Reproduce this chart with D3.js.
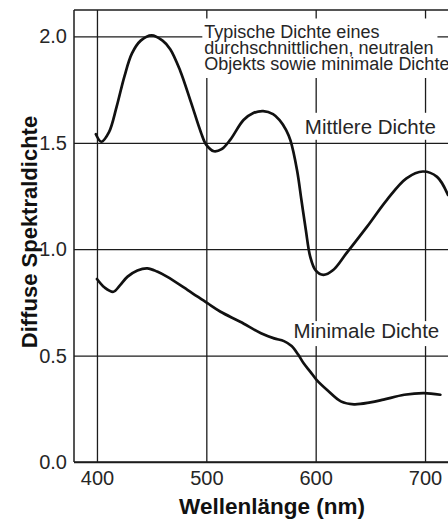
<!DOCTYPE html>
<html>
<head>
<meta charset="utf-8">
<script src="https://cdn.jsdelivr.net/npm/d3@7/dist/d3.min.js"></script>
<style>
  html, body { margin: 0; padding: 0; background: #fff; }
  svg { display: block; font-family: "Liberation Sans", Arial, Helvetica, sans-serif; }
</style>
</head>
<body>
<svg id="chart" width="448" height="526"></svg>
<script>
// ---- data ----
const xTicks = [400, 500, 600, 700];
const yTicks = [0.0, 0.5, 1.0, 1.5, 2.0];

const mittlereNm     = [399, 404, 411, 418, 425, 432, 440, 450, 460, 467, 476, 486, 495, 500, 507, 514, 522, 534, 543, 552, 561, 567, 573, 577, 583, 587, 591, 595, 600, 607, 616, 628, 647, 665, 683, 698, 711, 721];
const mittlereDichte = [1.54, 1.505, 1.55, 1.67, 1.81, 1.92, 1.98, 2.005, 1.98, 1.94, 1.84, 1.69, 1.55, 1.49, 1.46, 1.47, 1.515, 1.607, 1.64, 1.649, 1.635, 1.607, 1.56, 1.51, 1.37, 1.23, 1.09, 0.965, 0.90, 0.879, 0.902, 0.98, 1.106, 1.231, 1.333, 1.365, 1.34, 1.255];

const minimaleNm     = [400, 407, 415, 421, 428, 437, 446, 455, 464, 483, 501, 513, 531, 550, 562, 571, 578, 584, 589, 595, 601, 611, 623, 635, 650, 662, 681, 699, 714];
const minimaleDichte = [0.86, 0.82, 0.80, 0.83, 0.871, 0.90, 0.91, 0.895, 0.871, 0.808, 0.746, 0.706, 0.659, 0.605, 0.581, 0.568, 0.545, 0.505, 0.464, 0.425, 0.385, 0.336, 0.285, 0.271, 0.28, 0.293, 0.316, 0.324, 0.316];

const noteLines = ["Typische Dichte eines", "durchschnittlichen, neutralen", "Objekts sowie minimale Dichte"];
const labelMittlere = "Mittlere Dichte";
const labelMinimale = "Minimale Dichte";
const xTitle = "Wellenlänge (nm)";
const yTitle = "Diffuse Spektraldichte";

// ---- layout ----
const svg = d3.select("#chart");
const L = 74, R = 448, T = 10, B = 462;
const x = d3.scaleLinear().domain([379, 721]).range([L, R]);
const y = d3.scaleLinear().domain([0, 2.124]).range([B, T]);
const ink = "#1c1c1c";
const textInk = "#262626";

// gridlines + tick labels via axes
const yAxis = d3.axisLeft(y).tickValues(yTicks).tickFormat(d3.format(".1f"))
  .tickSize(-(R - L)).tickPadding(7);
const gy = svg.append("g").attr("transform", `translate(${L},0)`).call(yAxis);
gy.select(".domain").remove();
gy.selectAll(".tick line").attr("stroke", ink).attr("stroke-width", 1.3);
gy.selectAll(".tick text").attr("fill", textInk).attr("font-size", 20).attr("font-family", "Liberation Sans, Arial, sans-serif");

const xAxis = d3.axisBottom(x).tickValues(xTicks).tickFormat(d3.format("d"))
  .tickSize(-(B - T)).tickPadding(9);
const gx = svg.append("g").attr("transform", `translate(0,${B})`).call(xAxis);
gx.select(".domain").remove();
gx.selectAll(".tick line").attr("stroke", ink).attr("stroke-width", 1.3);
gx.selectAll(".tick text").attr("fill", textInk).attr("font-size", 20).attr("font-family", "Liberation Sans, Arial, sans-serif");

// ---- annotation labels with white backgrounds ----
function boxedText(lines, opts) {
  const g = svg.append("g");
  const rect = g.append("rect").attr("fill", "#fff");
  const t = g.append("text")
    .attr("font-size", opts.size)
    .attr("fill", textInk)
    .attr("text-anchor", opts.anchor);
  const spans = lines.map((s, i) =>
    t.append("tspan").attr("x", opts.x).attr("y", opts.y + i * opts.lh).text(s));
  return { g, rect, t, spans };
}

// note block (top right)
const note = boxedText(noteLines, { x: x(500) - 2, y: y(2.0) + 1.5, lh: 16, size: 18, anchor: "start" });
{
  const w2 = note.spans[1].node().getComputedTextLength();
  const x0 = x(500) - 4;
  note.rect.attr("x", x0).attr("y", T + 8.5).attr("width", w2 + 6).attr("height", 78 - (T + 8.5));
}

// Mittlere Dichte
const midX = (x(600) + x(700)) / 2;
const mid = boxedText([labelMittlere], { x: midX, y: y(1.5) - 9, lh: 0, size: 20.5, anchor: "middle" });
{
  const w = mid.t.node().getComputedTextLength();
  mid.rect.attr("x", midX - w / 2 - 3).attr("y", y(1.5) - 30).attr("width", w + 6).attr("height", 27);
}

// Minimale Dichte
const minX = (x(600) + x(700)) / 2 - 4;
const minL = boxedText([labelMinimale], { x: minX, y: y(0.5) - 17.5, lh: 0, size: 20.5, anchor: "middle" });
{
  const w = minL.t.node().getComputedTextLength();
  minL.rect.attr("x", minX - w / 2 - 3).attr("y", y(0.5) - 34.5).attr("width", w + 6).attr("height", 25);
}

// ---- curves ----
const line = d3.line().x(d => x(d[0])).y(d => y(d[1])).curve(d3.curveCatmullRom.alpha(0.5));
const mittlere = mittlereNm.map((n, i) => [n, mittlereDichte[i]]);
const minimale = minimaleNm.map((n, i) => [n, minimaleDichte[i]]);

[mittlere, minimale].forEach(series => {
  svg.append("path").datum(series).attr("d", line)
    .attr("fill", "none").attr("stroke", "#111").attr("stroke-width", 2.7)
    .attr("stroke-linejoin", "round").attr("stroke-linecap", "round");
});

// ---- frame ----
svg.append("line").attr("x1", L).attr("x2", L).attr("y1", T).attr("y2", B).attr("stroke", ink).attr("stroke-width", 1.5);
svg.append("line").attr("x1", L).attr("x2", R).attr("y1", T).attr("y2", T).attr("stroke", ink).attr("stroke-width", 1.5);
svg.append("line").attr("x1", L).attr("x2", R).attr("y1", B).attr("y2", B).attr("stroke", ink).attr("stroke-width", 1.5);

// ---- axis titles ----
svg.append("text").attr("x", 272).attr("y", 514).attr("text-anchor", "middle")
  .attr("font-size", 22.5).attr("font-weight", "bold").attr("fill", "#111").text(xTitle);
svg.append("text").attr("transform", "translate(37,232) rotate(-90)").attr("text-anchor", "middle")
  .attr("font-size", 22).attr("font-weight", "bold").attr("fill", "#111").text(yTitle);
</script>
</body>
</html>
